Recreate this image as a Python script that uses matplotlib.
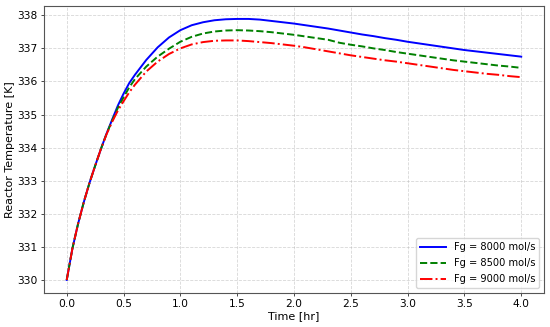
import matplotlib.pyplot as plt
import numpy as np

# time points [hr]
time = [0.0, 0.05, 0.1, 0.15, 0.2, 0.25, 0.3, 0.35, 0.4, 0.45, 0.5, 0.55,
        0.6, 0.7, 0.8, 0.9, 1.0, 1.1, 1.2, 1.3, 1.4, 1.5, 1.6, 1.7, 1.8,
        1.9, 2.0, 2.1, 2.2, 2.3, 2.4, 2.5, 2.6, 2.7, 2.8, 2.9, 3.0, 3.1,
        3.2, 3.3, 3.4, 3.5, 3.6, 3.7, 3.8, 3.9, 4.0]

# reactor temperature [K]
temp_8000 = [330.0, 330.95, 331.7, 332.35, 332.93, 333.45, 333.95, 334.42,
             334.85, 335.27, 335.63, 335.95, 336.2, 336.65, 337.03, 337.33,
             337.55, 337.7, 337.79, 337.85, 337.88, 337.89, 337.89, 337.87,
             337.83, 337.79, 337.75, 337.7, 337.65, 337.6, 337.54, 337.48,
             337.42, 337.37, 337.31, 337.26, 337.2, 337.15, 337.1, 337.05,
             337.0, 336.95, 336.91, 336.87, 336.83, 336.79, 336.75]
temp_8500 = [330.0, 330.95, 331.7, 332.35, 332.93, 333.45, 333.95, 334.41,
             334.82, 335.2, 335.52, 335.82, 336.07, 336.45, 336.75, 336.99,
             337.2, 337.35, 337.45, 337.51, 337.54, 337.55, 337.54, 337.52,
             337.49, 337.45, 337.41, 337.36, 337.31, 337.26, 337.17, 337.11,
             337.06, 337.0, 336.95, 336.89, 336.84, 336.79, 336.74, 336.69,
             336.64, 336.6, 336.56, 336.52, 336.48, 336.45, 336.41]
temp_9000 = [330.0, 330.95, 331.7, 332.35, 332.93, 333.45, 333.95, 334.4,
             334.78, 335.12, 335.4, 335.67, 335.9, 336.3, 336.6, 336.83,
             337.0, 337.12, 337.19, 337.23, 337.24, 337.24, 337.22, 337.19,
             337.16, 337.12, 337.08, 337.03, 336.97, 336.91, 336.85, 336.79,
             336.74, 336.69, 336.64, 336.6, 336.55, 336.5, 336.45, 336.4,
             336.35, 336.31, 336.27, 336.23, 336.2, 336.16, 336.13]


def main():
    fig = plt.figure(figsize=(5.5, 3.27), dpi=100)
    ax = fig.add_axes([0.08, 0.104, 0.909, 0.878])
    ax.plot(time, temp_8000, color='blue', linestyle='-', linewidth=1.4,
            label='Fg = 8000 mol/s')
    ax.plot(time, temp_8500, color='green', linestyle='--', linewidth=1.4,
            label='Fg = 8500 mol/s')
    ax.plot(time, temp_9000, color='red', linestyle='-.', linewidth=1.4,
            label='Fg = 9000 mol/s')
    ax.set_xlabel('Time [hr]', fontsize=8, labelpad=1)
    ax.set_ylabel('Reactor Temperature [K]', fontsize=8, labelpad=2)
    ax.tick_params(labelsize=7.7, length=2.5, width=0.5, pad=2)
    for s in ax.spines.values():
        s.set_linewidth(0.8)
        s.set_color('#555555')
    ax.grid(True, linestyle='--', linewidth=0.6, alpha=0.5)
    ax.legend(loc='lower right', fontsize=7.1, handlelength=2.6,
              labelspacing=0.6)
    plt.savefig('out.png', dpi=100)


if __name__ == '__main__':
    main()
